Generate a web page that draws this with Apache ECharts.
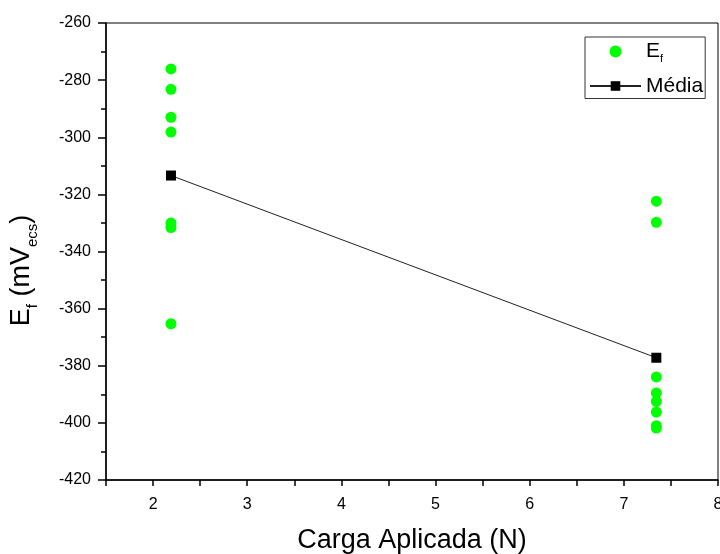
<!DOCTYPE html>
<html>
<head>
<meta charset="utf-8">
<script src="https://cdn.jsdelivr.net/npm/echarts@6/dist/echarts.min.js"></script>
<style>html,body{margin:0;padding:0;background:#fff}#c{width:720px;height:554px}</style>
</head>
<body>
<div id="c"></div>
<script>
var xLeft = 2.19;
var xRight = 7.345;
var efLeft = [-276.1, -283.2, -293.0, -298.2, -330.0, -331.6, -365.3];
var efRight = [-322.4, -329.8, -383.9, -389.5, -392.5, -396.2, -401.0, -401.8];
var mediaX = [2.19, 7.345];
var mediaY = [-313.4, -377.2];
var xTicks = [2, 3, 4, 5, 6, 7, 8];

var efData = efLeft.map(function (v) { return [xLeft, v]; })
  .concat(efRight.map(function (v) { return [xRight, v]; }));
var mediaData = mediaX.map(function (x, i) { return [x, mediaY[i]]; });

var FONT = '"Liberation Sans", Arial, sans-serif';
var chart = echarts.init(document.getElementById('c'), null, { renderer: 'canvas' });
chart.setOption({
  animation: false,
  backgroundColor: '#fff',
  textStyle: { fontFamily: FONT, color: '#000' },
  grid: { left: 106, right: 2, top: 23, bottom: 74, show: true, borderColor: '#000', borderWidth: 1,
          containLabel: false, outerBoundsMode: 'none' },
  xAxis: {
    type: 'value', min: 1.5, max: 8, interval: 0.5,
    name: 'Carga Aplicada (N)', nameLocation: 'middle', nameGap: 47,
    nameTextStyle: { fontSize: 27, fontFamily: FONT, color: '#000' },
    axisLine: { show: true, onZero: false, lineStyle: { color: '#000', width: 1.5 } },
    axisTick: { show: true, inside: false, length: 6, lineStyle: { color: '#000', width: 1.5 } },
    axisLabel: {
      fontSize: 16, fontFamily: FONT, color: '#000', margin: 17,
      formatter: function (v) { return xTicks.indexOf(v) >= 0 ? String(v) : ''; }
    },
    splitLine: { show: false }
  },
  yAxis: {
    type: 'value', min: -420, max: -260, interval: 20,
    name: '{m|E}{s|f}{m| (mV}{s|ecs}{m|)}', nameLocation: 'middle', nameGap: 66, nameRotate: 90,
    nameTextStyle: {
      fontFamily: FONT, color: '#000', padding: [0, 38, 0, 0],
      rich: {
        m: { fontSize: 27, fontFamily: FONT, lineHeight: 36, color: '#000' },
        s: { fontSize: 15, fontFamily: FONT, lineHeight: 15, verticalAlign: 'bottom', color: '#000' }
      }
    },
    axisLine: { show: true, onZero: false, lineStyle: { color: '#000', width: 1.5 } },
    axisTick: { show: true, inside: false, length: 8, lineStyle: { color: '#000', width: 1.5 } },
    minorTick: { show: true, splitNumber: 2, length: 5, lineStyle: { color: '#000', width: 1.5 } },
    axisLabel: { fontSize: 16, fontFamily: FONT, color: '#000', margin: 15 },
    splitLine: { show: false }
  },
  legend: {
    orient: 'vertical', left: 585, top: 37,
    borderColor: '#333', borderWidth: 1, padding: [4, 2, 2, 4],
    itemWidth: 51, itemHeight: 12, itemGap: 11,
    data: ['Ef', 'Média'],
    formatter: function (n) { return n === 'Ef' ? '{m|E}{s|f}' : '{m|Média}'; },
    textStyle: {
      fontFamily: FONT, color: '#000',
      rich: {
        m: { fontSize: 21, fontFamily: FONT, lineHeight: 26, color: '#000' },
        s: { fontSize: 11, fontFamily: FONT, lineHeight: 10, verticalAlign: 'bottom', color: '#000' }
      }
    }
  },
  series: [
    {
      name: 'Ef', type: 'scatter', data: efData,
      symbol: 'circle', symbolSize: 11, symbolKeepAspect: true,
      itemStyle: { color: '#00ff00', opacity: 1 }, z: 3
    },
    {
      name: 'Média', type: 'line', data: mediaData,
      symbol: 'rect', symbolSize: 10, showAllSymbol: true,
      lineStyle: { color: '#222', width: 1 },
      itemStyle: { color: '#000' }, z: 4
    }
  ]
});
</script>
</body>
</html>
